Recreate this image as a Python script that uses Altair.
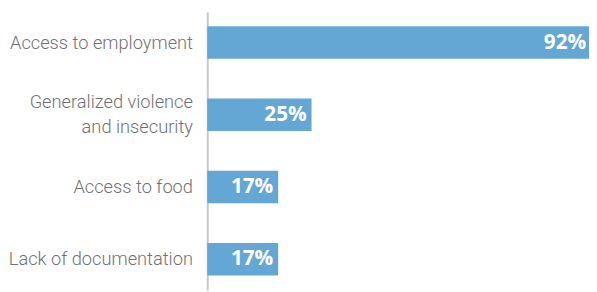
import altair as alt
import pandas as pd

categories = ["Access to employment", "Generalized violence and insecurity", "Access to food", "Lack of documentation"]
values = [92, 25, 17, 17]
labels = ["92%", "25%", "17%", "17%"]

df = pd.DataFrame({"cat": categories, "val": values, "lab": labels})

two_line = "Generalized violence and insecurity"

y = alt.Y("cat:N", sort=categories, title=None,
          scale=alt.Scale(paddingInner=0.55, paddingOuter=0.2),
          axis=alt.Axis(domainColor="#c8c8c8", domainWidth=2, ticks=False,
                        labelFont="Roboto", labelFontWeight=300, labelFontSize=18.5,
                        labelColor="#707174", labelPadding=15, labelLineHeight=25,
                        labelLimit=300,
                        labelOffset={"condition": {"test": f"datum.value == '{two_line}'", "value": -12.5}, "value": 0},
                        labelExpr=f"datum.label == '{two_line}' ? ['Generalized violence', 'and insecurity'] : datum.label"))
x = alt.X("val:Q", title=None, scale=alt.Scale(domain=[0, 91.5], nice=False), axis=None)

bars = alt.Chart(df).mark_bar(color="#64a7d5").encode(x=x, y=y)
text = alt.Chart(df).mark_text(align="right", dx=-5, color="white", font="Open Sans",
                               fontWeight="bold", fontSize=21).encode(x=x, y=y, text="lab:N")

chart = (bars + text).properties(
    width=387, height=282,
    padding={"left": 202, "top": 2, "right": 0, "bottom": 0},
    autosize=alt.AutoSizeParams(type="none")
).configure_view(stroke=None)

chart.save("out.html", embed_options={"renderer": "svg", "actions": False})
